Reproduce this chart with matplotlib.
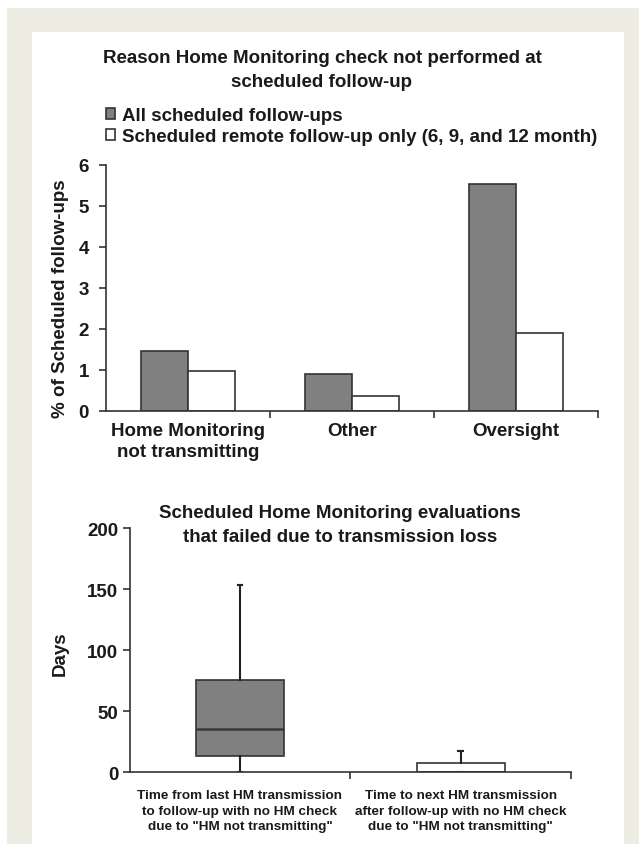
import matplotlib
matplotlib.use("Agg")
import matplotlib.pyplot as plt
from matplotlib.patches import Rectangle

plt.rcParams['font.family'] = ['Liberation Sans', 'DejaVu Sans']
plt.rcParams['font.weight'] = 'bold'

# ---------------- data ----------------
top_title = "Reason Home Monitoring check not performed at\nscheduled follow-up"
categories = ["Home Monitoring\nnot transmitting", "Other", "Oversight"]
series_names = ["All scheduled follow-ups",
                "Scheduled remote follow-up only (6, 9, and 12 month)"]
all_followups = [1.45, 0.90, 5.53]
remote_only = [0.96, 0.35, 1.90]
top_yticks = [0, 1, 2, 3, 4, 5, 6]
top_ylabel = "% of Scheduled follow-ups"

bottom_title = "Scheduled Home Monitoring evaluations\nthat failed due to transmission loss"
box_labels = ['Time from last HM transmission\nto follow-up with no HM check\ndue to "HM not transmitting"',
              'Time to next HM transmission\nafter follow-up with no HM check\ndue to "HM not transmitting"']
box_whislo = [0, 0]
box_q1 = [13.6, 0.5]
box_med = [35.7, 0.5]
box_q3 = [75.5, 7.8]
box_whishi = [153, 17.6]
bottom_yticks = [0, 50, 100, 150, 200]
bottom_ylabel = "Days"

# ---------------- figure ----------------
W, H = 639, 845
fig = plt.figure(figsize=(W / 100, H / 100), dpi=100)
fig.patch.set_facecolor('white')

beige = '#eeede3'
fig.patches.append(Rectangle((7 / W, 0), (639 - 7) / W, (845 - 9) / H,
                             transform=fig.transFigure, facecolor=beige,
                             edgecolor='none', zorder=-2))
fig.patches.append(Rectangle((32 / W, 0), (624 - 32) / W, (845 - 33) / H,
                             transform=fig.transFigure, facecolor='white',
                             edgecolor='none', zorder=-1))

txt = '#1a1a1a'
spine_c = '#333333'
fs = 13.5

# ---------------- top bar chart ----------------
ax = fig.add_axes([105.7 / W, 1 - 411.7 / H, (598 - 105.7) / W, (411.7 - 165.7) / H])
ax.set_facecolor('none')
w = 0.287
xc = [i + 0.5 for i in range(len(categories))]
b1 = ax.bar([c - w / 2 for c in xc], all_followups, width=w, color='#808080',
            edgecolor=spine_c, linewidth=1.2, label=series_names[0])
b2 = ax.bar([c + w / 2 for c in xc], remote_only, width=w, color='white',
            edgecolor=spine_c, linewidth=1.2, label=series_names[1])
ax.set_xlim(0, 3)
ax.set_ylim(0, 6)
ax.set_yticks(top_yticks)
ax.set_yticklabels([str(t) for t in top_yticks], fontsize=fs, fontweight='bold', color=txt)
ax.set_xticks(xc)
ax.set_xticklabels(categories, fontsize=fs, fontweight='bold', color=txt, linespacing=1.35)
ax.set_xticks([1, 2, 3], minor=True)
ax.tick_params(axis='x', which='major', length=0, pad=8)
ax.tick_params(axis='x', which='minor', length=5, width=1.2, color=spine_c, direction='out')
ax.tick_params(axis='y', length=5, width=1.2, color=spine_c, direction='out', pad=7)
for s in ['top', 'right']:
    ax.spines[s].set_visible(False)
for s in ['left', 'bottom']:
    ax.spines[s].set_color(spine_c)
    ax.spines[s].set_linewidth(1.2)
ax.set_ylabel(top_ylabel, fontsize=fs, fontweight='bold', color=txt)
ax.yaxis.set_label_coords(-0.0746, 0.46)

leg = ax.legend(handles=[b1, b2], loc='lower left',
                bbox_to_anchor=(0.0, 1.08), frameon=False, fontsize=fs,
                handlelength=0.5, handleheight=0.5, handletextpad=0.35,
                labelspacing=0.22, borderpad=0, borderaxespad=0)
for t in leg.get_texts():
    t.set_color(txt)
    t.set_fontweight('bold')

fig.text(322 / W, 1 - 70.5 / H, top_title, ha='center', va='center',
         fontsize=fs, fontweight='bold', color=txt, linespacing=1.55)

# ---------------- bottom box plot ----------------
ax2 = fig.add_axes([129.6 / W, 1 - 773.3 / H, (571 - 129.6) / W, (773.3 - 529) / H])
ax2.set_facecolor('none')
stats = []
for i in range(len(box_labels)):
    stats.append(dict(whislo=box_whislo[i], q1=box_q1[i], med=box_med[i],
                      q3=box_q3[i], whishi=box_whishi[i], fliers=[]))
bp = ax2.bxp(stats, positions=[0.5, 1.5], widths=0.4, patch_artist=True,
             showfliers=False, capwidths=0.02,
             boxprops=dict(edgecolor=spine_c, linewidth=1.2),
             medianprops=dict(color='#3a3a3a', linewidth=1.8),
             whiskerprops=dict(color='#222222', linewidth=1.5),
             capprops=dict(color='#222222', linewidth=1.5))
box_colors = ['#808080', 'white']
for patch, c in zip(bp['boxes'], box_colors):
    patch.set_facecolor(c)
ax2.set_xlim(0, 2)
ax2.set_ylim(0, 200)
ax2.set_yticks(bottom_yticks)
ax2.set_yticklabels([str(t) for t in bottom_yticks], fontsize=fs, fontweight='bold', color=txt)
ax2.set_xticks([0.5, 1.5])
ax2.set_xticklabels(box_labels, fontsize=9.7, fontweight='bold', color=txt, linespacing=1.4)
ax2.set_xticks([1, 2], minor=True)
ax2.tick_params(axis='x', which='major', length=0, pad=12)
ax2.tick_params(axis='x', which='minor', length=5, width=1.2, color=spine_c, direction='out')
ax2.tick_params(axis='y', length=5, width=1.2, color=spine_c, direction='out', pad=3)
for s in ['top', 'right']:
    ax2.spines[s].set_visible(False)
for s in ['left', 'bottom']:
    ax2.spines[s].set_color(spine_c)
    ax2.spines[s].set_linewidth(1.2)
ax2.set_ylabel(bottom_ylabel, fontsize=fs, fontweight='bold', color=txt)
ax2.yaxis.set_label_coords(-0.137, 0.49)

fig.text(340 / W, 1 - 525.5 / H, bottom_title, ha='center', va='center',
         fontsize=fs, fontweight='bold', color=txt, linespacing=1.6)

fig.savefig("out.png", dpi=100)
